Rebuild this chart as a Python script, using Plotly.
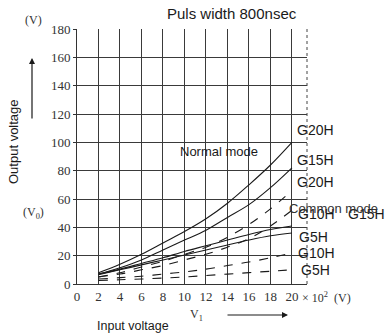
import plotly.graph_objects as go

# ---------------- data ----------------
x_vals = [2, 4, 6, 8, 10, 12, 14, 16, 18, 20]
normal_g20h = [8, 14, 21, 29, 37, 46, 57, 70, 84, 100]
normal_g15h = [7, 11.5, 17, 24, 31, 38, 47, 56, 68, 82]
normal_g10h = [7, 10.5, 14.5, 18.5, 23, 27, 31, 35, 38.5, 41]
normal_g5h = [6.5, 10, 13.5, 17, 20.5, 24, 27.5, 31, 34, 36]
common_g20h = [5, 8, 12, 16, 21, 26, 33, 42, 53, 66]
common_g15h = [5, 7, 10, 13, 17, 21, 26, 32, 41, 52]
common_g10h = [3.5, 4.5, 5.5, 7, 8.5, 10.5, 13, 15.5, 18.5, 22]
common_g5h = [2.5, 3, 3.5, 4.2, 5, 6, 7, 8, 9, 10]

x_ticks = [0, 2, 4, 6, 8, 10, 12, 14, 16, 18, 20]
x_ticktext = ["0", "2", "4", "6", "8", "10", "12", "14", "16", "18", "20"]
y_ticks = [0, 20, 40, 60, 80, 100, 120, 140, 160, 180]

# ---------------- layout geometry ----------------
W, H = 391, 335
L, R, T, B = 77, 84, 29, 51
PW, PH = W - L - R, H - T - B


def px(xp):
    return (xp - L) / PW


def py(yp):
    return (H - B - yp) / PH


SANS = "Liberation Sans, Arial, sans-serif"
SERIF = "Liberation Serif, Times New Roman, serif"
INK = "#1a1a1a"

fig = go.Figure()

normal = [normal_g20h, normal_g15h, normal_g10h, normal_g5h]
common = [common_g20h, common_g15h, common_g10h, common_g5h]
names = ["G20H", "G15H", "G10H", "G5H"]

for n, s in zip(names, normal):
    fig.add_trace(go.Scatter(x=x_vals, y=s, mode="lines", name="Normal " + n,
                             line=dict(color=INK, width=1.1, shape="spline"),
                             showlegend=False))
for n, s in zip(names, common):
    fig.add_trace(go.Scatter(x=x_vals, y=s, mode="lines", name="Common " + n,
                             line=dict(color=INK, width=1.1, dash="dash", shape="spline"),
                             showlegend=False))

annotations = []


def txt(text, xp, yp, size=14, font=SANS, xanchor="left", color=INK, angle=0):
    annotations.append(dict(text=text, x=px(xp), y=py(yp), xref="paper", yref="paper",
                            xanchor=xanchor, yanchor="middle", showarrow=False,
                            textangle=angle, borderpad=0,
                            font=dict(family=font, size=size, color=color)))


txt("Puls width 800nsec", 232, 13, size=15, xanchor="center")
txt("Normal mode", 219, 151, size=13, xanchor="center")
txt("G20H", 296, 130)
txt("G15H", 296, 160)
txt("G20H", 296, 182)
txt("G10H", 297, 214)
txt("G15H", 347, 214)
txt("Common mode", 288, 209, size=13, color="#333")
txt("G5H", 298, 237)
txt("G10H", 297, 253)
txt("G5H", 300, 270)
txt("(V)", 33, 20, size=12, font=SERIF, xanchor="center", color="#333")
txt("(V<sub>0</sub>)", 33, 213, size=12, font=SERIF, xanchor="center", color="#333")
txt("Output voltage", 13, 142, size=13, xanchor="center", angle=-90)
txt("Input voltage", 133, 326, size=12.5, xanchor="center")
txt("× 10<sup>2</sup>  (V)", 301, 297, size=12, font=SERIF, color="#333")
txt("V<sub>1</sub>", 196, 315, size=12, font=SERIF, xanchor="center", color="#333")

# arrows (head position in paper coords, tail offset in pixels)
annotations.append(dict(x=px(32), y=py(58), ax=0, ay=62, xref="paper", yref="paper",
                        axref="pixel", ayref="pixel", text="", showarrow=True,
                        arrowhead=2, arrowsize=1, arrowwidth=1.2, arrowcolor=INK))
annotations.append(dict(x=px(288), y=py(315), ax=-62, ay=0, xref="paper", yref="paper",
                        axref="pixel", ayref="pixel", text="", showarrow=True,
                        arrowhead=2, arrowsize=1, arrowwidth=1.2, arrowcolor=INK))

fig.update_layout(
    width=W, height=H,
    margin=dict(l=L, r=R, t=T, b=B, pad=0),
    paper_bgcolor="white", plot_bgcolor="white",
    annotations=annotations,
    xaxis=dict(range=[0, 21.4], tickvals=x_ticks, ticktext=x_ticktext,
               showgrid=True, gridcolor="#3a3a3a", gridwidth=1, zeroline=False,
               showline=True, linecolor="#333", linewidth=1,
               ticks="", tickfont=dict(family=SERIF, size=13, color="#333"),
               automargin=False, fixedrange=True),
    yaxis=dict(range=[0, 180], tickvals=y_ticks,
               showgrid=True, gridcolor="#3a3a3a", gridwidth=1, zeroline=False,
               showline=True, linecolor="#333", linewidth=1,
               ticks="outside", ticklen=3, tickcolor="#333",
               tickfont=dict(family=SERIF, size=13, color="#333"),
               automargin=False, fixedrange=True),
    shapes=[dict(type="line", xref="paper", yref="paper", x0=1, x1=1, y0=0, y1=1,
                 line=dict(color="#444", width=1, dash="dot"))],
)

fig.write_html("out.html", config={"displayModeBar": False},
               post_script="document.body.style.margin='0';")
